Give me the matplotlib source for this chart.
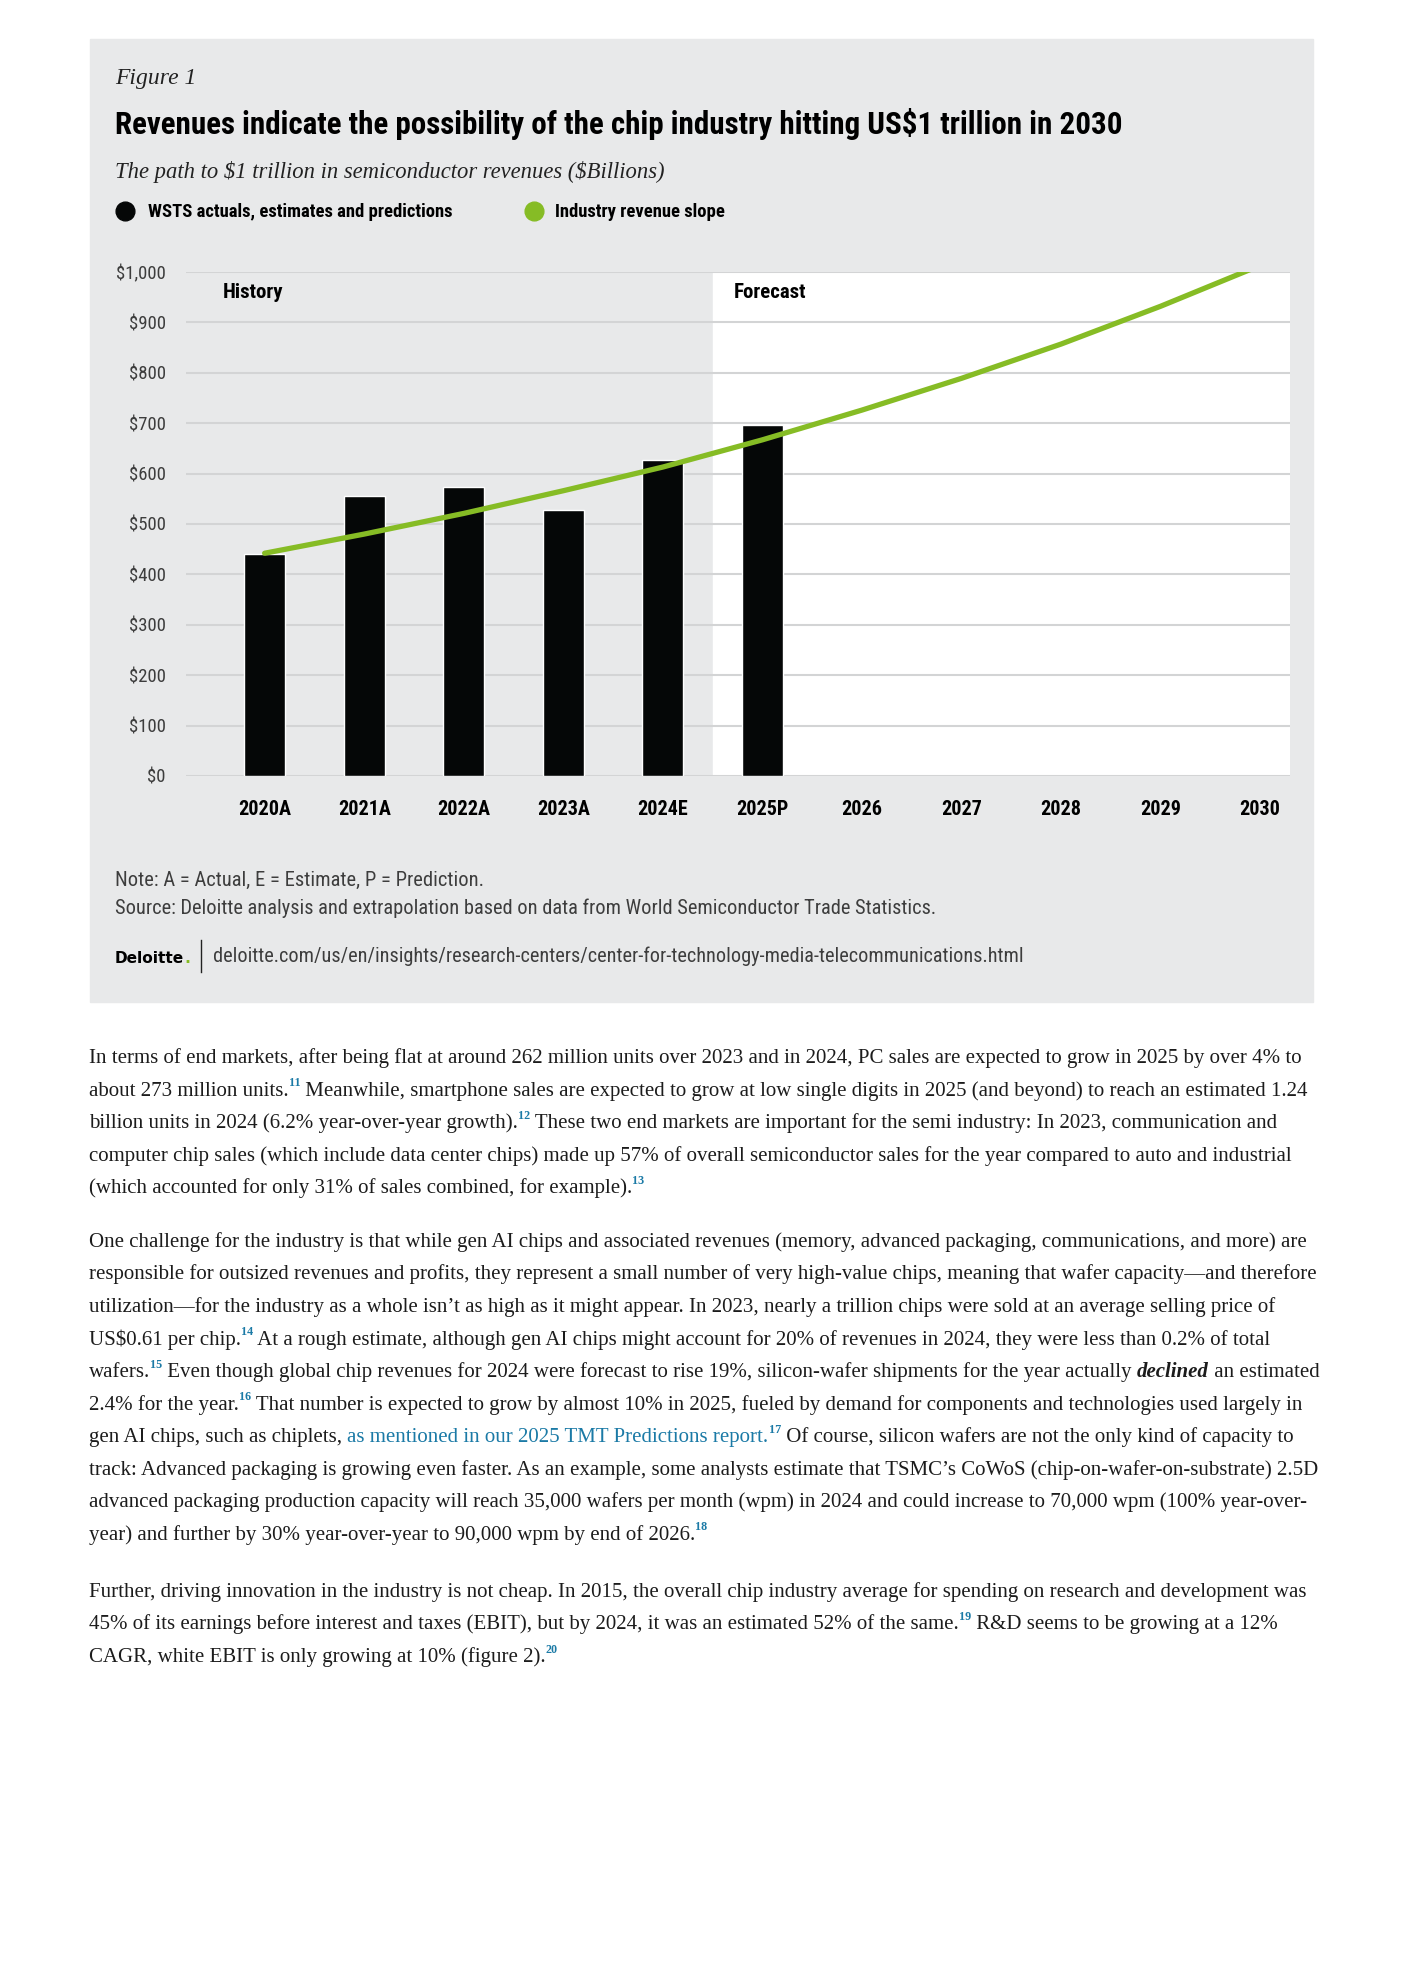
import matplotlib
matplotlib.use('Agg')
import matplotlib.pyplot as plt
from matplotlib.patches import Rectangle
from matplotlib.lines import Line2D
import numpy as np

# ---- data ----
years = ['2020A', '2021A', '2022A', '2023A', '2024E', '2025P',
         '2026', '2027', '2028', '2029', '2030']
wsts = [440, 556, 574, 527, 627, 697]          # $B, actuals/estimates/predictions
slope = [442, 480, 521, 566, 613, 667, 726, 789, 857, 932, 1013]   # revenue slope line
yticks = [0, 100, 200, 300, 400, 500, 600, 700, 800, 900, 1000]
ylabels = ['\\$0', '\\$100', '\\$200', '\\$300', '\\$400', '\\$500',
           '\\$600', '\\$700', '\\$800', '\\$900', '\\$1,000']

# ---- style ----
W, H = 1403, 1985
PANEL = '#e8e9ea'
GREEN = '#86bc25'
BLACK = '#050707'
GRID = '#d3d4d5'
LINK = '#1b7aa6'
TXT = '#1c1c1c'
GREYTXT = '#3d3d3d'
NARROW = ['DejaVu Sans Condensed', 'Roboto Condensed', 'Open Sans Condensed',
          'Liberation Sans Narrow', 'Roboto', 'DejaVu Sans']
SERIF = ['Liberation Serif', 'DejaVu Serif']

fig = plt.figure(figsize=(W / 100, H / 100), dpi=100)
fig.patch.set_facecolor('white')
renderer = fig.canvas.get_renderer()


def fx(x):
    return x / W


def fy(y):
    return 1 - y / H


def put(x, y, s, width=None, size=12, **kw):
    t = fig.text(fx(x), fy(y), s, fontsize=size, va='baseline', ha='left', **kw)
    if width:
        w = t.get_window_extent(renderer).width
        t.set_fontsize(size * width / w)
    return t


def width_of(s, **kw):
    a = fig.text(0, 0, '|' + s + '|', **kw)
    b = fig.text(0, 0, '||', **kw)
    w = a.get_window_extent(renderer).width - b.get_window_extent(renderer).width
    a.remove()
    b.remove()
    return w


def runs(x, y, parts, size):
    for s, kind in parts:
        kw = dict(family=SERIF, color=TXT, fontsize=size)
        yy = y
        if kind == 'sup':
            kw.update(color=LINK, fontsize=size * 0.58, weight='bold')
            yy = y - size * 0.62
        elif kind == 'link':
            kw.update(color=LINK)
        elif kind == 'it':
            kw.update(style='italic', weight='bold')
        fig.text(fx(x), fy(yy), s, va='baseline', ha='left', **kw)
        x += width_of(s, **kw)


# ---- grey panel ----
fig.add_artist(Rectangle((fx(90), fy(1002)), 1223 / W, 963 / H,
                         transform=fig.transFigure, color=PANEL, zorder=-1))

put(115, 84, 'Figure 1', width=81, size=16, family=SERIF, style='italic', color='#222222')
put(115, 134, 'Revenues indicate the possibility of the chip industry hitting US\\$1 trillion in 2030',
    width=1008, size=22, family=NARROW, weight='bold', color='black')
put(115, 178, 'The path to \\$1 trillion in semiconductor revenues (\\$Billions)',
    width=550, size=16, family=SERIF, style='italic', color='#222222')

# legend
fig.add_artist(Line2D([fx(125)], [fy(211)], marker='o', markersize=13.5, color=BLACK,
                      transform=fig.transFigure))
put(148, 217, 'WSTS actuals, estimates and predictions', width=307, size=14,
    family=NARROW, weight='bold', color='black')
fig.add_artist(Line2D([fx(534)], [fy(211)], marker='o', markersize=13.5, color=GREEN,
                      transform=fig.transFigure))
put(555, 217, 'Industry revenue slope', width=171, size=14,
    family=NARROW, weight='bold', color='black')

# ---- chart ----
ax = fig.add_axes([fx(186), fy(776), (1290 - 186) / W, (776 - 272) / H])
ax.set_facecolor(PANEL)
x = np.arange(len(years))
ax.set_xlim(-0.79, 10.3)
ax.set_ylim(0, 1000)
ax.axvspan(4.5, 10.3, color='white', zorder=0)
ax.bar(x[:len(wsts)], wsts, width=0.41, color=BLACK, edgecolor='white',
       linewidth=1.0, zorder=2)
ax.plot(x, slope, color=GREEN, lw=3.8, solid_capstyle='round', zorder=3)

ax.set_axisbelow(True)
ax.grid(axis='y', color=GRID, lw=1.5)
ax.set_yticks(yticks, ylabels, fontsize=13.5, family=NARROW, color=GREYTXT)
ax.set_xticks(x, years, fontsize=14.5, family=NARROW, weight='bold', color='black')
ax.tick_params(axis='y', length=0, pad=14.4)
ax.tick_params(axis='x', length=0, pad=17)
for s in ax.spines.values():
    s.set_visible(False)

put(223, 298, 'History', size=15, family=NARROW, weight='bold', color='black')
put(734, 298, 'Forecast', size=15, family=NARROW, weight='bold', color='black')

# notes
put(115, 886, 'Note: A = Actual, E = Estimate, P = Prediction.', width=368, size=14,
    family=NARROW, color=GREYTXT)
put(115, 914, 'Source: Deloitte analysis and extrapolation based on data from World Semiconductor Trade Statistics.',
    width=824, size=14, family=NARROW, color=GREYTXT)
d = put(115, 963, 'Deloitte', width=69, size=13, family='DejaVu Sans', weight='bold', color='black')
put(115 + width_of('Deloitte', family='DejaVu Sans', weight='bold', fontsize=d.get_fontsize()),
    963, '.', size=d.get_fontsize(), family='DejaVu Sans', weight='bold', color=GREEN)
fig.add_artist(Line2D([fx(201), fx(201)], [fy(940), fy(972)], color='#222222', lw=1,
                      transform=fig.transFigure))
put(213, 962, 'deloitte.com/us/en/insights/research-centers/center-for-technology-media-telecommunications.html',
    width=811, size=14, family=NARROW, color=GREYTXT)

# ---- body text ----
para1 = [
    [('In terms of end markets, after being flat at around 262 million units over 2023 and in 2024, PC sales are expected to grow in 2025 by over 4% to', 'n')],
    [('about 273 million units.', 'n'), ('11', 'sup'), (' Meanwhile, smartphone sales are expected to grow at low single digits in 2025 (and beyond) to reach an estimated 1.24', 'n')],
    [('billion units in 2024 (6.2% year-over-year growth).', 'n'), ('12', 'sup'), (' These two end markets are important for the semi industry: In 2023, communication and', 'n')],
    [('computer chip sales (which include data center chips) made up 57% of overall semiconductor sales for the year compared to auto and industrial', 'n')],
    [('(which accounted for only 31% of sales combined, for example).', 'n'), ('13', 'sup')],
]
para2 = [
    [('One challenge for the industry is that while gen AI chips and associated revenues (memory, advanced packaging, communications, and more) are', 'n')],
    [('responsible for outsized revenues and profits, they represent a small number of very high-value chips, meaning that wafer capacity\u2014and therefore', 'n')],
    [('utilization\u2014for the industry as a whole isn\u2019t as high as it might appear. In 2023, nearly a trillion chips were sold at an average selling price of', 'n')],
    [('US\\$0.61 per chip.', 'n'), ('14', 'sup'), (' At a rough estimate, although gen AI chips might account for 20% of revenues in 2024, they were less than 0.2% of total', 'n')],
    [('wafers.', 'n'), ('15', 'sup'), (' Even though global chip revenues for 2024 were forecast to rise 19%, silicon-wafer shipments for the year actually ', 'n'), ('declined', 'it'), (' an estimated', 'n')],
    [('2.4% for the year.', 'n'), ('16', 'sup'), (' That number is expected to grow by almost 10% in 2025, fueled by demand for components and technologies used largely in', 'n')],
    [('gen AI chips, such as chiplets, ', 'n'), ('as mentioned in our 2025 TMT Predictions report.', 'link'), ('17', 'sup'), (' Of course, silicon wafers are not the only kind of capacity to', 'n')],
    [('track: Advanced packaging is growing even faster. As an example, some analysts estimate that TSMC\u2019s CoWoS (chip-on-wafer-on-substrate) 2.5D', 'n')],
    [('advanced packaging production capacity will reach 35,000 wafers per month (wpm) in 2024 and could increase to 70,000 wpm (100% year-over-', 'n')],
    [('year) and further by 30% year-over-year to 90,000 wpm by end of 2026.', 'n'), ('18', 'sup')],
]
para3 = [
    [('Further, driving innovation in the industry is not cheap. In 2015, the overall chip industry average for spending on research and development was', 'n')],
    [('45% of its earnings before interest and taxes (EBIT), but by 2024, it was an estimated 52% of the same.', 'n'), ('19', 'sup'), (' R&D seems to be growing at a 12%', 'n')],
    [('CAGR, white EBIT is only growing at 10% (figure 2).', 'n'), ('20', 'sup')],
]

body_size = 14 * 1216 / width_of(para1[0][0][0], family=SERIF, fontsize=14)
step = 32.5
for start, para in [(1063, para1), (1247, para2), (1597, para3)]:
    for i, line in enumerate(para):
        runs(89, start + i * step, line, body_size)

fig.savefig('out.png', dpi=100, facecolor='white')
